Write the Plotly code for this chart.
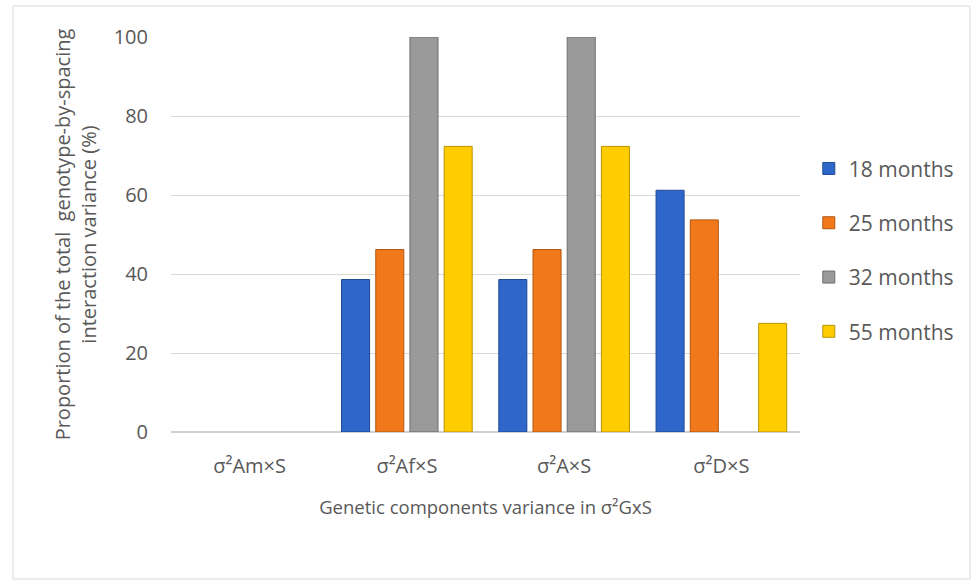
import plotly.graph_objects as go

categories = ["σ²Am×S", "σ²Af×S", "σ²A×S", "σ²D×S"]
series_names = ["18 months", "25 months", "32 months", "55 months"]
m18 = [None, 38.6, 38.6, 61.2]
m25 = [None, 46.2, 46.2, 53.7]
m32 = [None, 100.0, 100.0, None]
m55 = [None, 72.3, 72.3, 27.5]
y_ticks = [0, 20, 40, 60, 80, 100]

colors = ["#2E67C9", "#F2791B", "#9A9A9A", "#FFCC00"]
edge_colors = ["#1F4A94", "#B3560F", "#6E6E6E", "#B89300"]

FONT = "Open Sans"
TXT = "#595959"

fig = go.Figure()
for i, (name, vals) in enumerate(zip(series_names, [m18, m25, m32, m55])):
    fig.add_trace(go.Bar(
        x=categories, y=vals, name=name,
        marker=dict(color=colors[i], line=dict(color=edge_colors[i], width=1)),
        legendgroup=name,
    ))

fig.update_layout(
    width=972, height=581,
    paper_bgcolor="white", plot_bgcolor="white",
    margin=dict(l=171, r=172, t=37, b=149),
    barmode="group", bargap=0.13, bargroupgap=0.18,
    font=dict(family=FONT, size=19, color=TXT),
    legend=dict(x=1.014, xanchor="left", y=0.46, yanchor="middle",
                font=dict(family=FONT, size=21, color=TXT),
                traceorder="grouped", tracegroupgap=24,
                itemwidth=30),
    showlegend=True,
)
fig.update_xaxes(
    showgrid=False, showline=False, zeroline=False,
    tickfont=dict(family=FONT, size=20, color=TXT),
    ticklabelstandoff=20,
    title=dict(text="Genetic components variance in σ²GxS",
               font=dict(family=FONT, size=18.5, color=TXT), standoff=23),
)
fig.update_yaxes(
    range=[0, 100], tickvals=y_ticks,
    showgrid=True, gridcolor="#D9D9D9", gridwidth=1,
    zeroline=True, zerolinecolor="#D0D0D0", zerolinewidth=1.5,
    tickfont=dict(family=FONT, size=20, color=TXT),
    ticklabelstandoff=22,
    title=dict(text="Proportion of the total  genotype-by-spacing<br>interaction variance (%)",
               font=dict(family=FONT, size=20, color=TXT), standoff=11),
)
fig.add_shape(type="rect", xref="paper", yref="paper",
              x0=(13 - 171) / 629, x1=(970 - 171) / 629,
              y0=(581 - 579 - 149) / 395, y1=(581 - 6 - 149) / 395,
              line=dict(color="#D9D9D9", width=1), fillcolor="rgba(0,0,0,0)", layer="below")

fig.write_html("out.html", config={"displayModeBar": False},
               post_script="document.body.style.margin='0';")
